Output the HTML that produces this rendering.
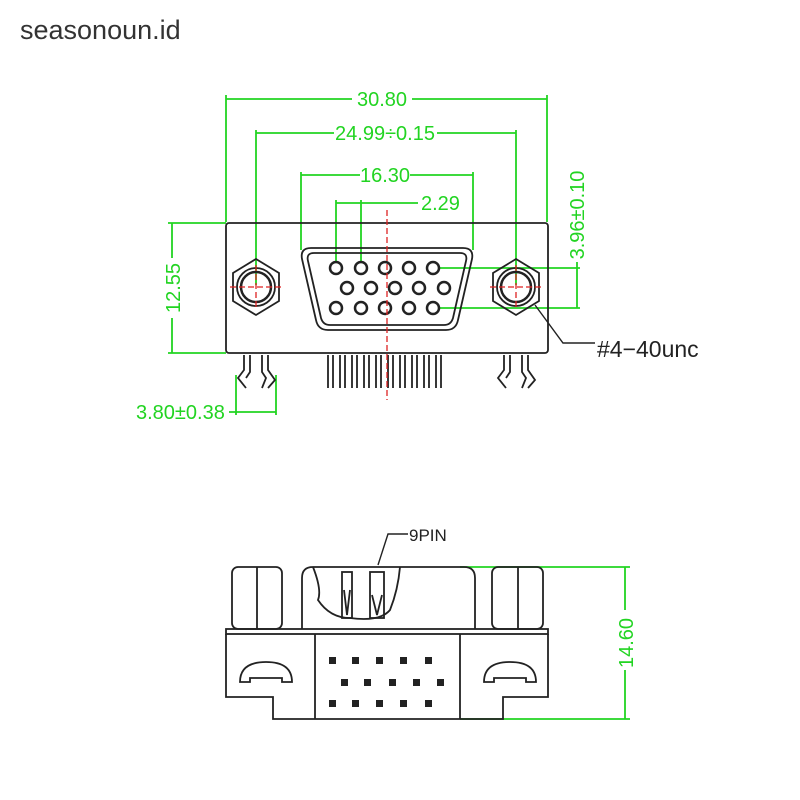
<!DOCTYPE html>
<html><head><meta charset="utf-8"><style>
html,body{margin:0;padding:0;background:#fff;width:800px;height:800px;overflow:hidden}
</style></head><body>
<svg width="800" height="800" viewBox="0 0 800 800" xmlns="http://www.w3.org/2000/svg" font-family="Liberation Sans, sans-serif">
<text x="20" y="39" font-size="27" fill="#333">seasonoun.id</text>

<g stroke="#22d422" stroke-width="1.8" fill="none">
 <line x1="226" y1="99" x2="352" y2="99"/><line x1="412" y1="99" x2="547" y2="99"/>
 <line x1="226" y1="95" x2="226" y2="222"/><line x1="547" y1="95" x2="547" y2="222"/>
 <line x1="256" y1="133" x2="334" y2="133"/><line x1="437" y1="133" x2="516" y2="133"/>
 <line x1="256" y1="130" x2="256" y2="285"/><line x1="516" y1="130" x2="516" y2="285"/>
 <line x1="301" y1="175" x2="360" y2="175"/><line x1="410" y1="175" x2="473" y2="175"/>
 <line x1="301" y1="172" x2="301" y2="250"/><line x1="473" y1="172" x2="473" y2="250"/>
 <line x1="336" y1="203" x2="418" y2="203"/>
 <line x1="336" y1="200" x2="336" y2="262"/><line x1="361" y1="200" x2="361" y2="262"/>
 <line x1="440" y1="268" x2="580" y2="268"/><line x1="440" y1="308" x2="580" y2="308"/>
 <line x1="577" y1="262" x2="577" y2="308"/>
 <line x1="168" y1="223" x2="226" y2="223"/><line x1="168" y1="353" x2="226" y2="353"/>
 <line x1="172" y1="223" x2="172" y2="258"/><line x1="172" y1="318" x2="172" y2="353"/>
 <line x1="236" y1="375" x2="236" y2="415"/><line x1="276" y1="375" x2="276" y2="415"/>
 <line x1="229" y1="412" x2="276" y2="412"/>
 <line x1="460" y1="567" x2="630" y2="567"/><line x1="460" y1="719" x2="630" y2="719"/>
 <line x1="625" y1="567" x2="625" y2="610"/><line x1="625" y1="670" x2="625" y2="719"/>
</g>
<g fill="#22d422" font-size="20">
 <text x="382" y="106" text-anchor="middle">30.80</text>
 <text x="385" y="140" text-anchor="middle">24.99÷0.15</text>
 <text x="385" y="182" text-anchor="middle">16.30</text>
 <text x="421" y="210">2.29</text>
 <text x="136" y="419">3.80±0.38</text>
 <text transform="translate(584,215) rotate(-90)" text-anchor="middle">3.96±0.10</text>
 <text transform="translate(180,288) rotate(-90)" text-anchor="middle">12.55</text>
 <text transform="translate(633,643) rotate(-90)" text-anchor="middle">14.60</text>
</g>

<g stroke="#222" stroke-width="1.8" fill="none">
 <rect x="226" y="223" width="322" height="130" rx="3"/>
 <polygon points="256,259 279,273 279,301 256,315 233,301 233,273"/>
 <circle cx="256" cy="287" r="19"/><circle cx="256" cy="287" r="15" stroke-width="2.5"/>
 <polygon points="516,259 539,273 539,301 516,315 493,301 493,273"/>
 <circle cx="516" cy="287" r="19"/><circle cx="516" cy="287" r="15" stroke-width="2.5"/>
 <path d="M311,248 H463 Q474,248 472,259 L458,320 Q456,330 446,330 H328 Q318,330 316,320 L302,259 Q300,248 311,248Z"/>
 <path d="M314,253 H460 Q468,253 466,261 L453,318 Q451,325 444,325 H330 Q323,325 321,318 L308,261 Q306,253 314,253Z"/>
 <g stroke-width="2.5">
 <circle cx="336" cy="268" r="6"/><circle cx="361" cy="268" r="6"/><circle cx="385" cy="268" r="6"/><circle cx="409" cy="268" r="6"/><circle cx="433" cy="268" r="6"/>
 <circle cx="347" cy="288" r="6"/><circle cx="371" cy="288" r="6"/><circle cx="395" cy="288" r="6"/><circle cx="419" cy="288" r="6"/><circle cx="444" cy="288" r="6"/>
 <circle cx="336" cy="308" r="6"/><circle cx="361" cy="308" r="6"/><circle cx="385" cy="308" r="6"/><circle cx="409" cy="308" r="6"/><circle cx="433" cy="308" r="6"/>
 </g>
 <path d="M328,355 V388 M333,355 V388 M340,355 V388 M345,355 V388 M352,355 V388 M357,355 V388 M364,355 V388 M369,355 V388 M376,355 V388 M381,355 V388 M388,355 V388 M393,355 V388 M400,355 V388 M405,355 V388 M412,355 V388 M417,355 V388 M424,355 V388 M429,355 V388 M436,355 V388 M441,355 V388"/>
 <path d="M244,355 V370 L238,378 L246,388 M250,355 V372 L246,378 M262,355 V372 L266,378 L262,388 M268,355 V370 L275,380 L268,388"/>
 <path d="M504,355 V370 L498,378 L506,388 M510,355 V372 L506,378 M522,355 V372 L526,378 L522,388 M528,355 V370 L535,380 L528,388"/>
 <path d="M535,305 L563,343 H595" stroke-width="1.4"/>
</g>
<g stroke="#d22" stroke-width="1.3" stroke-dasharray="6,3">
 <line x1="387" y1="210" x2="387" y2="400"/>
 <line x1="230" y1="287" x2="282" y2="287"/><line x1="256" y1="265" x2="256" y2="310"/>
 <line x1="490" y1="287" x2="542" y2="287"/><line x1="516" y1="265" x2="516" y2="310"/>
</g>
<text x="597" y="357" font-size="23" fill="#222">#4−40unc</text>

<g stroke="#222" stroke-width="1.8" fill="none">
 <rect x="232" y="567" width="50" height="62" rx="6"/><line x1="257" y1="567" x2="257" y2="629"/>
 <rect x="492" y="567" width="51" height="62" rx="6"/><line x1="518" y1="567" x2="518" y2="629"/>
 <path d="M302,629 V578 Q302,567 313,567 H464 Q475,567 475,578 V629"/>
 <path d="M313,567 Q322,590 318,600 Q330,618 350,618 Q380,622 390,610 Q398,590 400,567"/>
 <rect x="342" y="572" width="10" height="46"/><rect x="370" y="572" width="14" height="46"/>
 <path d="M344,590 L347,615 L350,590 M372,595 L377,615 L382,595"/>
 <path d="M378,565 L388,534 H408" stroke-width="1.4"/>
 <rect x="226" y="629" width="322" height="5"/>
 <path d="M226,634 V697 H273 V719 H503 V697 H548 V634"/>
 <line x1="315" y1="634" x2="315" y2="719"/><line x1="460" y1="634" x2="460" y2="719"/>
 <path d="M240,682 Q240,662 266,662 Q292,662 292,682 H282 V678 H250 V682Z"/>
 <path d="M484,682 Q484,662 510,662 Q536,662 536,682 H526 V678 H494 V682Z"/>
</g>
<g fill="#222">
 <rect x="329" y="657" width="7" height="7"/><rect x="352" y="657" width="7" height="7"/><rect x="376" y="657" width="7" height="7"/><rect x="400" y="657" width="7" height="7"/><rect x="425" y="657" width="7" height="7"/>
 <rect x="341" y="679" width="7" height="7"/><rect x="364" y="679" width="7" height="7"/><rect x="389" y="679" width="7" height="7"/><rect x="413" y="679" width="7" height="7"/><rect x="437" y="679" width="7" height="7"/>
 <rect x="329" y="700" width="7" height="7"/><rect x="352" y="700" width="7" height="7"/><rect x="376" y="700" width="7" height="7"/><rect x="400" y="700" width="7" height="7"/><rect x="425" y="700" width="7" height="7"/>
</g>
<text x="409" y="541" font-size="17" fill="#222">9PIN</text>
</svg>
</body></html>
